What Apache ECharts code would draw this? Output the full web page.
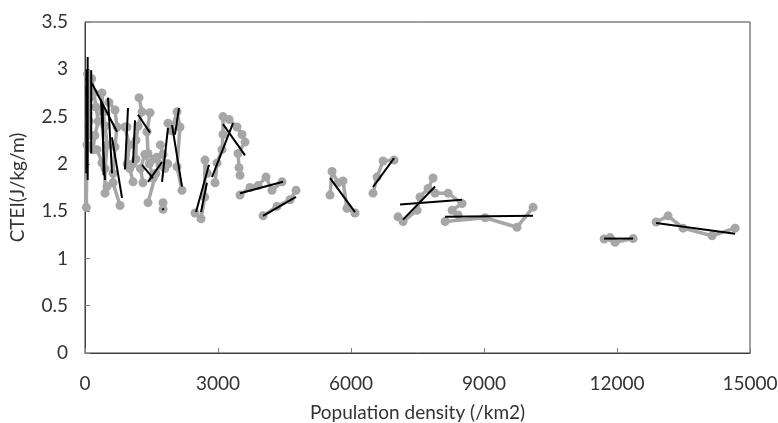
<!DOCTYPE html>
<html>
<head>
<meta charset="utf-8">
<script src="https://cdn.jsdelivr.net/npm/echarts@6/dist/echarts.min.js"></script>
<style>
  html, body { margin: 0; padding: 0; background: #fff; }
  #chart { width: 778px; height: 423px; }
</style>
</head>
<body>
<div id="chart"></div>
<script>
// gray city groups [density, CTEI]
var grpA = [[30,1.54],[45,2.2],[60,2.95],[80,2.85],[110,2.7],[95,2.45],[130,2.3]];
var grpB = [[150,2.9],[200,2.75],[250,2.6],[300,2.45],[220,2.3],[180,2.15],[271,2.15],[383,2.01]];
var grpC = [[383,2.75],[406,2.54],[451,2.4],[500,2.2],[451,1.95],[451,1.69],[496,1.76]];
var grpD = [[540,2.65],[677,2.57],[722,2.39],[677,2.18],[632,1.9],[632,1.8],[790,1.56]];
var grpE = [[902,2.39],[947,2.39],[1000,2.2],[950,2.0],[1010,1.95],[1083,1.81]];
var grpF = [[1218,2.70],[1286,2.55],[1200,2.4],[1150,2.25],[1150,2.05],[1083,2.0]];
var grpG = [[1466,2.54],[1398,2.34],[1421,2.11],[1550,2.05],[1624,2.07],[1692,1.99],[1600,1.9],[1421,1.59]];
var grpH = [[1308,1.80],[1250,1.95],[1350,2.1],[1450,2.0],[1540,1.85]];
var grpI = [[1760,1.59],[1760,1.52]];
var grpJ = [[1872,2.43],[1950,2.35],[2075,2.55],[2143,2.39],[2075,1.97],[2188,1.72]];
var grpK = [[1700,2.2],[1760,2.1],[1800,1.95],[1870,2.0]];
var grpL = [[2482,1.48],[2617,1.42],[2700,1.65],[2707,2.04],[2760,1.9]];
var grpM = [[2933,1.80],[2978,2.01],[3090,2.15],[3113,2.31],[3113,2.50],[3249,2.47],[3429,2.39],[3542,2.31],[3610,2.23],[3452,2.11],[3474,1.96],[3497,1.88]];
var grpN = [[3497,1.67],[3722,1.75],[3903,1.77],[4083,1.86],[4218,1.72],[4444,1.81]];
var grpO = [[4016,1.45],[4331,1.55],[4625,1.62],[4760,1.72]];
var grpP = [[5527,1.67],[5572,1.92],[5708,1.80],[5820,1.82],[5910,1.53],[6091,1.48]];
var grpQ = [[6497,1.69],[6587,1.86],[6723,2.03],[6971,2.04]];
var grpR = [[7061,1.44],[7174,1.39],[7490,1.51],[7557,1.65],[7738,1.74],[7851,1.85]];
var grpS = [[7896,1.69],[8190,1.69],[8505,1.58],[8280,1.51],[8415,1.46]];
var grpT = [[8122,1.39],[9024,1.43],[9746,1.33],[10107,1.54]];
var grpU = [[11709,1.205],[11844,1.22],[11957,1.17],[12363,1.21]];
var grpV = [[12882,1.385],[13152,1.45],[13490,1.32],[14145,1.24],[14664,1.32]];

// black fitted trend segments
var trendLines = [
  [[30,3.0],[30,1.9]], [[60,3.13],[60,1.83]], [[140,2.99],[140,2.11]],
  [[158,2.85],[722,2.34]], [[360,2.68],[450,1.83]], [[400,2.62],[420,1.88]],
  [[519,2.70],[609,1.90]], [[609,2.28],[835,1.64]], [[970,2.59],[902,1.94]],
  [[1128,2.46],[1083,2.01]], [[1196,2.52],[1466,2.33]], [[1286,1.99],[1534,1.85]],
  [[1421,1.81],[1737,2.02]], [[1872,2.38],[1737,1.81]], [[1963,2.41],[2188,1.76]],
  [[2120,2.59],[2030,2.31]], [[1750,1.53],[1770,1.51]],
  [[2504,1.49],[2797,1.99]], [[2617,1.49],[2750,1.80]],
  [[2865,1.86],[3339,2.43]], [[3113,2.42],[3610,2.09]],
  [[3497,1.69],[4467,1.81]], [[4016,1.45],[4760,1.65]],
  [[5527,1.85],[6091,1.49]], [[6497,1.755],[6971,2.06]],
  [[7174,1.41],[7896,1.76]], [[7106,1.57],[8505,1.62]], [[8122,1.44],[10107,1.45]],
  [[11709,1.21],[12363,1.21]], [[12882,1.375],[14664,1.26]]
];

var groups = [grpA, grpB, grpC, grpD, grpE, grpF, grpG, grpH, grpI, grpJ, grpK,
  grpL, grpM, grpN, grpO, grpP, grpQ, grpR, grpS, grpT, grpU, grpV];

var xTicks = [0, 3000, 6000, 9000, 12000, 15000];
var yTicks = [0, 0.5, 1, 1.5, 2, 2.5, 3, 3.5];

var series = [];
groups.forEach(function (g) {
  series.push({
    type: 'line', data: g, symbol: 'circle', symbolSize: 9,
    lineStyle: { color: '#a6a6a6', width: 3.5 },
    itemStyle: { color: '#a6a6a6' },
    z: 2, silent: true
  });
});
trendLines.forEach(function (t) {
  series.push({
    type: 'line', data: t, symbol: 'none',
    lineStyle: { color: '#000', width: 2 },
    z: 3, silent: true
  });
});

var font = 'Lato';
var chart = echarts.init(document.getElementById('chart'));
chart.setOption({
  animation: false,
  grid: { left: 85, right: 28, top: 22, bottom: 70, show: true, borderColor: '#404040', borderWidth: 1,
    containLabel: false, outerBoundsMode: 'none' },
  xAxis: {
    type: 'value', min: xTicks[0], max: xTicks[xTicks.length - 1], interval: 3000,
    name: 'Population density (/km2)', nameLocation: 'middle', nameGap: 50,
    nameTextStyle: { fontFamily: font, fontSize: 19, color: '#333' },
    axisLine: { lineStyle: { color: '#404040' } },
    axisTick: { inside: true, length: 5, lineStyle: { color: '#808080' } },
    axisLabel: { fontFamily: font, fontSize: 19, color: '#333', margin: 21,
      formatter: function (v) { return String(v); } },
    splitLine: { show: false }
  },
  yAxis: {
    type: 'value', min: yTicks[0], max: yTicks[yTicks.length - 1], interval: 0.5,
    name: 'CTEI(J/kg/m)', nameLocation: 'middle', nameGap: 58, nameRotate: 90,
    nameTextStyle: { fontFamily: font, fontSize: 19, color: '#333' },
    axisLine: { show: true, lineStyle: { color: '#404040' } },
    axisTick: { show: true, inside: true, length: 5, lineStyle: { color: '#808080' } },
    axisLabel: { fontFamily: font, fontSize: 19, color: '#333', margin: 17 },
    splitLine: { show: false }
  },
  series: series
});
</script>
</body>
</html>
